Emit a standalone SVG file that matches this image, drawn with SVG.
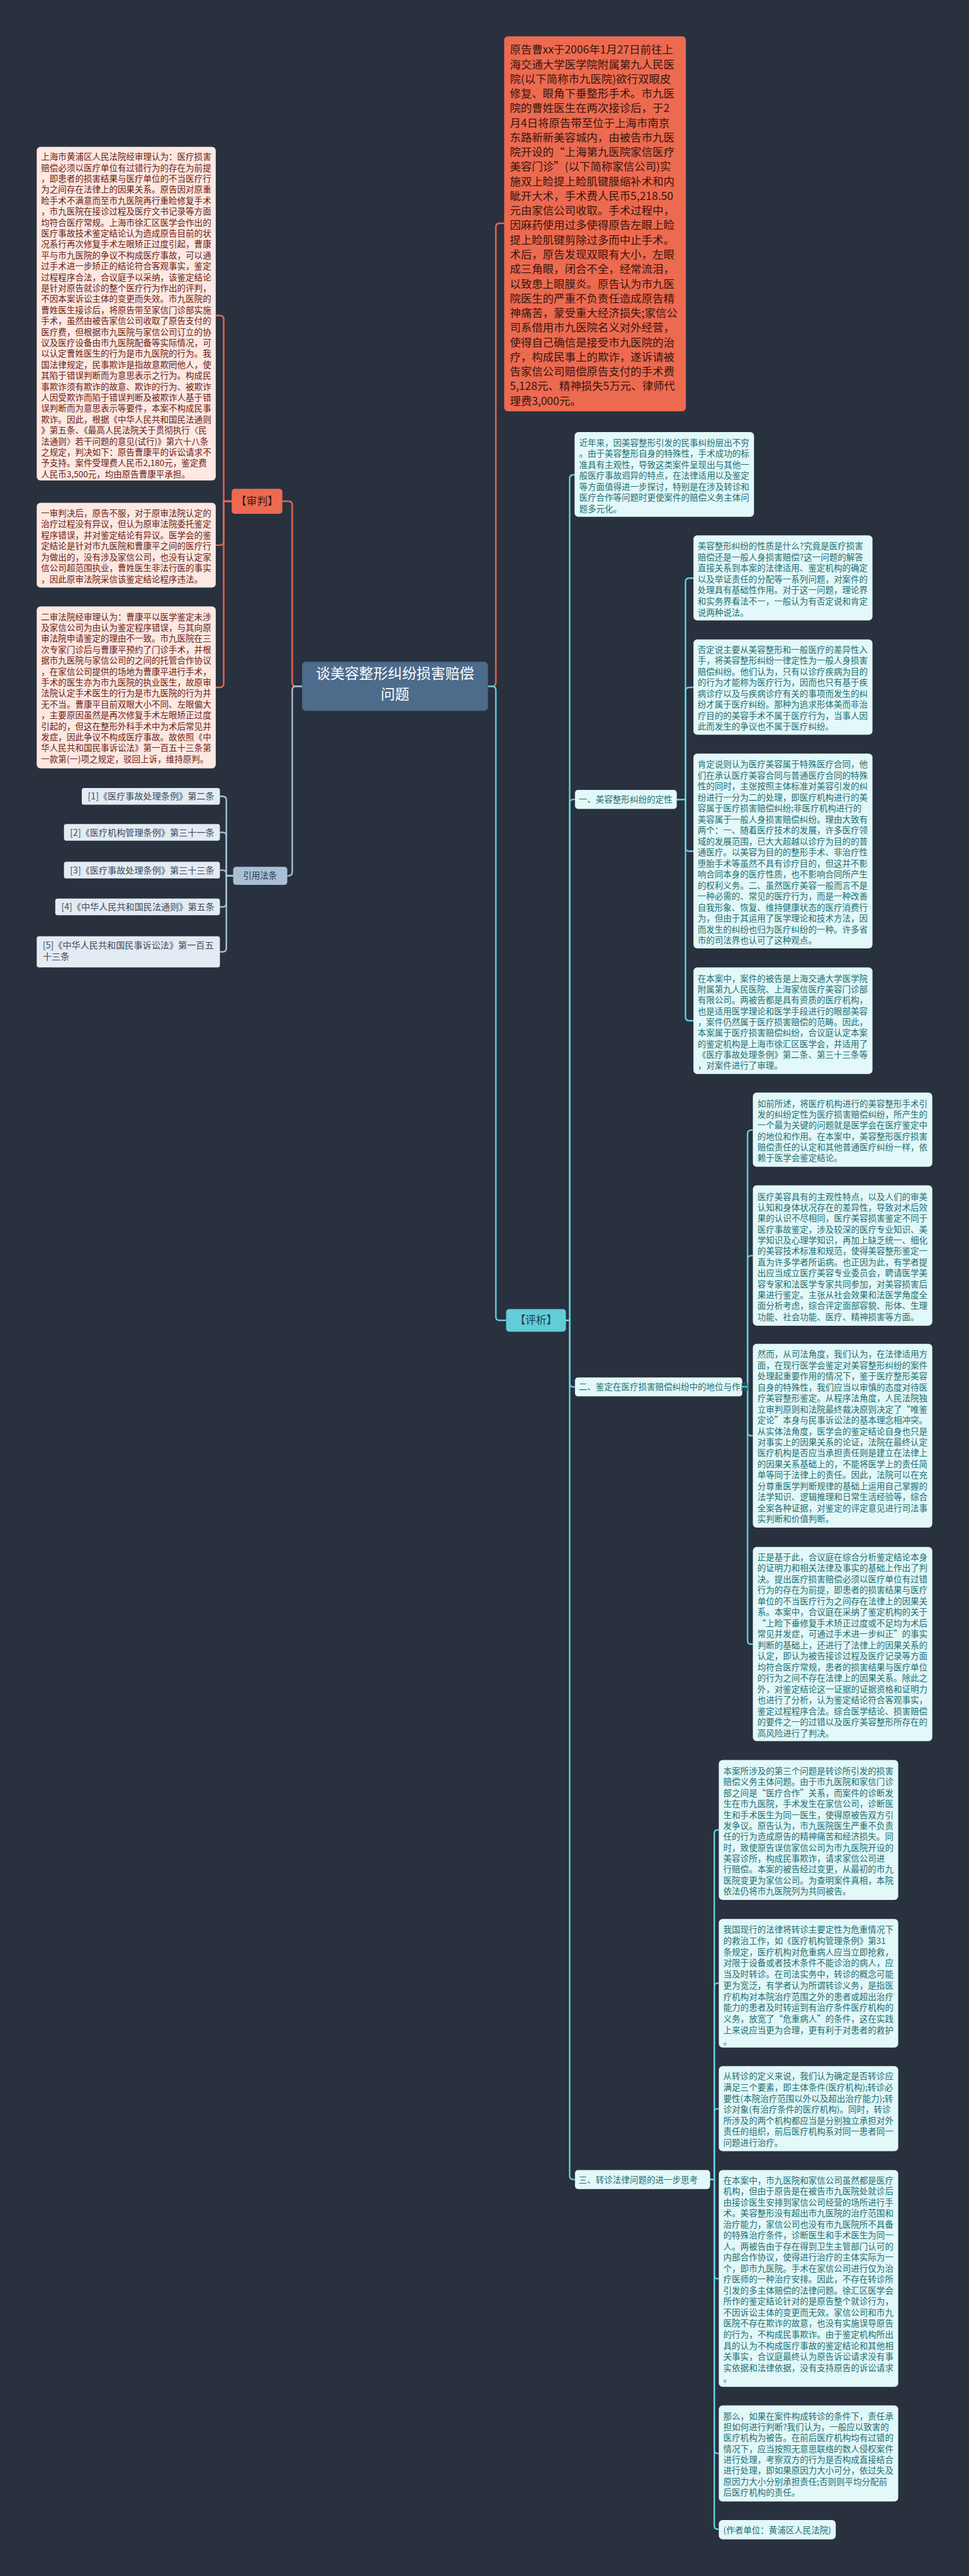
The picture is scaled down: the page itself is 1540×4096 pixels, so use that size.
<svg xmlns="http://www.w3.org/2000/svg" width="1540" height="4096" viewBox="0 0 1540 4096">
<defs>
<style>
text{font-family:"Noto Sans CJK SC","Noto Sans",sans-serif;}
.bg{fill:#29313f;}
.case{fill:#ec6a50;}
.caset{font-size:29px;fill:#3a140c;}
.lb{fill:#fde8e2;}
.lt{font-size:22.5px;fill:#6b2015;}
.rb{fill:#e2f8f9;}
.rt{font-size:22.5px;fill:#1f6e72;}
.ct{font-size:38px;fill:#ffffff;}
.ot{font-size:28px;fill:#3a1a14;}
.pt{font-size:28px;fill:#1f3f4a;}
.gt{font-size:22.5px;fill:#2b3a4a;}
.refb{fill:#e3ebf3;}
.reft{font-size:23.5px;fill:#3b4a5a;}
.co{fill:none;stroke:#e8674d;stroke-width:4;}
.cc{fill:none;stroke:#62cfdd;stroke-width:4;}
.cg{fill:none;stroke:#a9c0d6;stroke-width:4;}
</style>
</defs>
<rect class="bg" x="0" y="0" width="1540" height="4096"/>
<g transform="scale(0.6015625)">
<g id="connectors">
<path class="co" d="M798,1814 H782 Q772,1814 772,1804 V1335 Q772,1325 762,1325 H746" stroke-width="5"/>
<path class="cg" d="M798,1814 H782 Q772,1814 772,1824 V2305 Q772,2315 762,2315 H759" stroke-width="5"/>
<path class="co" d="M1289,1814 H1300 Q1310,1814 1310,1804 V600 Q1310,590 1320,590 H1332" stroke-width="5"/>
<path class="cc" d="M1289,1814 H1300 Q1310,1814 1310,1824 V3480 Q1310,3490 1320,3490 H1337" stroke-width="5"/>
<path class="co" d="M612,1325 H591 V844 Q591,834 581,834 H570"/>
<path class="co" d="M612,1325 H591 V1431 Q591,1441 581,1441 H570"/>
<path class="co" d="M612,1325 H591 V1807 Q591,1817 581,1817 H570"/>
<path class="cg" d="M616,2315 H598 V2115 Q598,2105 588,2105 H581"/>
<path class="cg" d="M616,2315 H598 V2210 Q598,2200 588,2200 H581"/>
<path class="cg" d="M616,2315 H598 V2310 Q598,2300 588,2300 H581"/>
<path class="cg" d="M616,2315 H598 V2387 Q598,2397 588,2397 H581"/>
<path class="cg" d="M616,2315 H598 V2506 Q598,2516 588,2516 H581"/>
<path class="cc" d="M1495,3490 H1505 V1265 Q1505,1255 1515,1255 H1518"/>
<path class="cc" d="M1495,3490 H1505 V2123 Q1505,2113 1515,2113 H1519"/>
<path class="cc" d="M1495,3490 H1505 V3656 Q1505,3666 1515,3666 H1519"/>
<path class="cc" d="M1495,3490 H1505 V5751 Q1505,5761 1515,5761 H1519"/>
<path class="cc" d="M1788,2113 H1811 V1538 Q1811,1528 1821,1528 H1832"/>
<path class="cc" d="M1788,2113 H1811 V1827 Q1811,1817 1821,1817 H1832"/>
<path class="cc" d="M1788,2113 H1811 V2240 Q1811,2250 1821,2250 H1832"/>
<path class="cc" d="M1788,2113 H1811 V2688 Q1811,2698 1821,2698 H1832"/>
<path class="cc" d="M1961,3666 H1975 V2997 Q1975,2987 1985,2987 H1989"/>
<path class="cc" d="M1961,3666 H1975 V3329 Q1975,3319 1985,3319 H1989"/>
<path class="cc" d="M1961,3666 H1975 V3785 Q1975,3795 1985,3795 H1989"/>
<path class="cc" d="M1961,3666 H1975 V4336 Q1975,4346 1985,4346 H1989"/>
<path class="cc" d="M1876,5761 H1887 V4847 Q1887,4837 1895,4837 H1899"/>
<path class="cc" d="M1876,5761 H1887 V5252 Q1887,5242 1895,5242 H1899"/>
<path class="cc" d="M1876,5761 H1887 V5584 Q1887,5574 1895,5574 H1899"/>
<path class="cc" d="M1876,5761 H1887 V6013 Q1887,6023 1895,6023 H1899"/>
<path class="cc" d="M1876,5761 H1887 V6475 Q1887,6485 1895,6485 H1899"/>
<path class="cc" d="M1876,5761 H1887 V6675 Q1887,6685 1895,6685 H1899"/>
</g>
<g id="root">
<rect x="798" y="1749" width="491" height="130" rx="10" fill="#4d6b8b"/>
<text class="ct" text-anchor="middle"><tspan x="1043.5" y="1793">谈美容整形纠纷损害赔偿</tspan><tspan x="1043.5" y="1849">问题</tspan></text>
</g>
<g id="case">
<rect class="case" x="1332" y="96" width="480" height="991" rx="10"/>
<text class="caset"><tspan x="1347" y="142">原告曹xx于2006年1月27日前往上</tspan><tspan x="1347" dy="38.66">海交通大学医学院附属第九人民医</tspan><tspan x="1347" dy="38.66">院(以下简称市九医院)欲行双眼皮</tspan><tspan x="1347" dy="38.66">修复、眼角下垂整形手术。市九医</tspan><tspan x="1347" dy="38.66">院的曹姓医生在两次接诊后，于2</tspan><tspan x="1347" dy="38.66">月4日将原告带至位于上海市南京</tspan><tspan x="1347" dy="38.66">东路新新美容城内，由被告市九医</tspan><tspan x="1347" dy="38.66">院开设的“上海第九医院家信医疗</tspan><tspan x="1347" dy="38.66">美容门诊”(以下简称家信公司)实</tspan><tspan x="1347" dy="38.66">施双上睑提上睑肌键膜缩补术和内</tspan><tspan x="1347" dy="38.66">眦开大术，手术费人民币5,218.50</tspan><tspan x="1347" dy="38.66">元由家信公司收取。手术过程中，</tspan><tspan x="1347" dy="38.66">因麻药使用过多使得原告左眼上睑</tspan><tspan x="1347" dy="38.66">提上睑肌键剪除过多而中止手术。</tspan><tspan x="1347" dy="38.66">术后，原告发现双眼有大小，左眼</tspan><tspan x="1347" dy="38.66">成三角眼，闭合不全，经常流泪，</tspan><tspan x="1347" dy="38.66">以致患上眼膜炎。原告认为市九医</tspan><tspan x="1347" dy="38.66">院医生的严重不负责任造成原告精</tspan><tspan x="1347" dy="38.66">神痛苦，蒙受重大经济损失;家信公</tspan><tspan x="1347" dy="38.66">司系借用市九医院名义对外经营，</tspan><tspan x="1347" dy="38.66">使得自己确信是接受市九医院的治</tspan><tspan x="1347" dy="38.66">疗，构成民事上的欺诈，遂诉请被</tspan><tspan x="1347" dy="38.66">告家信公司赔偿原告支付的手术费</tspan><tspan x="1347" dy="38.66">5,128元、精神损失5万元、律师代</tspan><tspan x="1347" dy="38.66">理费3,000元。</tspan></text>
</g>
<g id="shenpan">
<rect class="case" x="612" y="1292" width="134" height="66" rx="8"/>
<text class="ot" x="623" y="1335">【审判】</text>
</g>
<g id="sp1">
<rect class="lb" x="97" y="388" width="473" height="882" rx="10"/>
<text class="lt"><tspan x="108.6" y="422.5">上海市黄浦区人民法院经审理认为：医疗损害</tspan><tspan x="108.6" dy="28.93">赔偿必须以医疗单位有过错行为的存在为前提</tspan><tspan x="108.6" dy="28.93">，即患者的损害结果与医疗单位的不当医疗行</tspan><tspan x="108.6" dy="28.93">为之间存在法律上的因果关系。原告因对原重</tspan><tspan x="108.6" dy="28.93">睑手术不满意而至市九医院再行重睑修复手术</tspan><tspan x="108.6" dy="28.93">，市九医院在接诊过程及医疗文书记录等方面</tspan><tspan x="108.6" dy="28.93">均符合医疗常规。上海市徐汇区医学会作出的</tspan><tspan x="108.6" dy="28.93">医疗事故技术鉴定结论认为造成原告目前的状</tspan><tspan x="108.6" dy="28.93">况系行再次修复手术左眼矫正过度引起，曹康</tspan><tspan x="108.6" dy="28.93">平与市九医院的争议不构成医疗事故，可以通</tspan><tspan x="108.6" dy="28.93">过手术进一步矫正的结论符合客观事实，鉴定</tspan><tspan x="108.6" dy="28.93">过程程序合法，合议庭予以采纳，该鉴定结论</tspan><tspan x="108.6" dy="28.93">是针对原告就诊的整个医疗行为作出的评判，</tspan><tspan x="108.6" dy="28.93">不因本案诉讼主体的变更而失效。市九医院的</tspan><tspan x="108.6" dy="28.93">曹姓医生接诊后，将原告带至家信门诊部实施</tspan><tspan x="108.6" dy="28.93">手术，虽然由被告家信公司收取了原告支付的</tspan><tspan x="108.6" dy="28.93">医疗费，但根据市九医院与家信公司订立的协</tspan><tspan x="108.6" dy="28.93">议及医疗设备由市九医院配备等实际情况，可</tspan><tspan x="108.6" dy="28.93">以认定曹姓医生的行为是市九医院的行为。我</tspan><tspan x="108.6" dy="28.93">国法律规定，民事欺诈是指故意欺罔他人，使</tspan><tspan x="108.6" dy="28.93">其陷于错误判断而为意思表示之行为。构成民</tspan><tspan x="108.6" dy="28.93">事欺诈须有欺诈的故意、欺诈的行为、被欺诈</tspan><tspan x="108.6" dy="28.93">人因受欺诈而陷于错误判断及被欺诈人基于错</tspan><tspan x="108.6" dy="28.93">误判断而为意思表示等要件，本案不构成民事</tspan><tspan x="108.6" dy="28.93">欺诈。因此，根据《中华人民共和国民法通则</tspan><tspan x="108.6" dy="28.93">》第五条、《最高人民法院关于贯彻执行〈民</tspan><tspan x="108.6" dy="28.93">法通则〉若干问题的意见(试行)》第六十八条</tspan><tspan x="108.6" dy="28.93">之规定，判决如下：原告曹康平的诉讼请求不</tspan><tspan x="108.6" dy="28.93">予支持。案件受理费人民币2,180元，鉴定费</tspan><tspan x="108.6" dy="28.93">人民币3,500元，均由原告曹康平承担。</tspan></text>
</g>
<g id="sp2">
<rect class="lb" x="97" y="1329" width="473" height="224" rx="10"/>
<text class="lt"><tspan x="108.6" y="1364.5">一审判决后，原告不服，对于原审法院认定的</tspan><tspan x="108.6" dy="29">治疗过程没有异议，但认为原审法院委托鉴定</tspan><tspan x="108.6" dy="29">程序错误，并对鉴定结论有异议。医学会的鉴</tspan><tspan x="108.6" dy="29">定结论是针对市九医院和曹康平之间的医疗行</tspan><tspan x="108.6" dy="29">为做出的，没有涉及家信公司，也没有认定家</tspan><tspan x="108.6" dy="29">信公司超范围执业，曹姓医生非法行医的事实</tspan><tspan x="108.6" dy="29">，因此原审法院采信该鉴定结论程序违法。</tspan></text>
</g>
<g id="sp3">
<rect class="lb" x="97" y="1603" width="473" height="428" rx="10"/>
<text class="lt"><tspan x="108.6" y="1638.5">二审法院经审理认为：曹康平以医学鉴定未涉</tspan><tspan x="108.6" dy="28.9">及家信公司为由认为鉴定程序错误，与其向原</tspan><tspan x="108.6" dy="28.9">审法院申请鉴定的理由不一致。市九医院在三</tspan><tspan x="108.6" dy="28.9">次专家门诊后与曹康平预约了门诊手术，并根</tspan><tspan x="108.6" dy="28.9">据市九医院与家信公司的之间的托管合作协议</tspan><tspan x="108.6" dy="28.9">，在家信公司提供的场地为曹康平进行手术，</tspan><tspan x="108.6" dy="28.9">手术的医生亦为市九医院的执业医生，故原审</tspan><tspan x="108.6" dy="28.9">法院认定手术医生的行为是市九医院的行为并</tspan><tspan x="108.6" dy="28.9">无不当。曹康平目前双眼大小不同、左眼偏大</tspan><tspan x="108.6" dy="28.9">，主要原因虽然是再次修复手术左眼矫正过度</tspan><tspan x="108.6" dy="28.9">引起的，但这在整形外科手术中为术后常见并</tspan><tspan x="108.6" dy="28.9">发症，因此争议不构成医疗事故。故依照《中</tspan><tspan x="108.6" dy="28.9">华人民共和国民事诉讼法》第一百五十三条第</tspan><tspan x="108.6" dy="28.9">一款第(一)项之规定，驳回上诉，维持原判。</tspan></text>
</g>
<g id="yinyong">
<rect x="616" y="2291" width="143" height="48" rx="8" fill="#a8bfd6"/>
<text class="gt" x="642" y="2323">引用法条</text>
</g>
<g id="ref1"><rect class="refb" x="216" y="2083" width="365" height="44" rx="6"/><text class="reft" x="232" y="2113.5">[1]《医疗事故处理条例》第二条</text></g>
<g id="ref2"><rect class="refb" x="169" y="2178" width="412" height="44" rx="6"/><text class="reft" x="185" y="2208.5">[2]《医疗机构管理条例》第三十一条</text></g>
<g id="ref3"><rect class="refb" x="169" y="2278" width="412" height="44" rx="6"/><text class="reft" x="185" y="2308.5">[3]《医疗事故处理条例》第三十三条</text></g>
<g id="ref4"><rect class="refb" x="146" y="2375" width="435" height="44" rx="6"/><text class="reft" x="162" y="2405.5">[4]《中华人民共和国民法通则》第五条</text></g>
<g id="ref5"><rect class="refb" x="97" y="2475" width="484" height="82" rx="6"/><text class="reft"><tspan x="113" y="2506">[5]《中华人民共和国民事诉讼法》第一百五</tspan><tspan x="113" dy="30">十三条</tspan></text></g>
<g id="pingxi">
<rect x="1337" y="3460" width="158" height="60" rx="8" fill="#62ccd9"/>
<text class="pt" x="1360" y="3500">【评析】</text>
</g>
<g id="intro">
<rect class="rb" x="1518" y="1142" width="474" height="224" rx="10"/>
<text class="rt"><tspan x="1530" y="1178.5">近年来，因美容整形引发的民事纠纷层出不穷</tspan><tspan x="1530" dy="29">。由于美容整形自身的特殊性，手术成功的标</tspan><tspan x="1530" dy="29">准具有主观性，导致这类案件呈现出与其他一</tspan><tspan x="1530" dy="29">般医疗事故迥异的特点，在法律适用以及鉴定</tspan><tspan x="1530" dy="29">等方面值得进一步探讨，特别是在涉及转诊和</tspan><tspan x="1530" dy="29">医疗合作等问题时更使案件的赔偿义务主体问</tspan><tspan x="1530" dy="29">题多元化。</tspan></text>
</g>
<g id="sec1">
<rect class="rb" x="1519" y="2088" width="269" height="50" rx="8"/>
<text class="rt" x="1529" y="2121.5">一、美容整形纠纷的定性</text>
</g>
<g id="s1b1">
<rect class="rb" x="1832" y="1415" width="473" height="225" rx="10"/>
<text class="rt"><tspan x="1843" y="1452">美容整形纠纷的性质是什么?究竟是医疗损害</tspan><tspan x="1843" dy="29.1">赔偿还是一般人身损害赔偿?这一问题的解答</tspan><tspan x="1843" dy="29.1">直接关系到本案的法律适用、鉴定机构的确定</tspan><tspan x="1843" dy="29.1">以及举证责任的分配等一系列问题，对案件的</tspan><tspan x="1843" dy="29.1">处理具有基础性作用。对于这一问题，理论界</tspan><tspan x="1843" dy="29.1">和实务界看法不一，一般认为有否定说和肯定</tspan><tspan x="1843" dy="29.1">说两种说法。</tspan></text>
</g>
<g id="s1b2">
<rect class="rb" x="1832" y="1690" width="473" height="252" rx="10"/>
<text class="rt"><tspan x="1843" y="1725.5">否定说主要从美容整形和一般医疗的差异性入</tspan><tspan x="1843" dy="29">手，将美容整形纠纷一律定性为一般人身损害</tspan><tspan x="1843" dy="29">赔偿纠纷。他们认为，只有以诊疗疾病为目的</tspan><tspan x="1843" dy="29">的行为才能称为医疗行为，因而也只有基于疾</tspan><tspan x="1843" dy="29">病诊疗以及与疾病诊疗有关的事项而发生的纠</tspan><tspan x="1843" dy="29">纷才属于医疗纠纷。那种为追求形体美而非治</tspan><tspan x="1843" dy="29">疗目的的美容手术不属于医疗行为，当事人因</tspan><tspan x="1843" dy="29">此而发生的争议也不属于医疗纠纷。</tspan></text>
</g>
<g id="s1b3">
<rect class="rb" x="1832" y="1992" width="473" height="515" rx="10"/>
<text class="rt"><tspan x="1843" y="2028.5">肯定说则认为医疗美容属于特殊医疗合同，他</tspan><tspan x="1843" dy="29.1">们在承认医疗美容合同与普通医疗合同的特殊</tspan><tspan x="1843" dy="29.1">性的同时，主张按照主体标准对美容引发的纠</tspan><tspan x="1843" dy="29.1">纷进行一分为二的处理，即医疗机构进行的美</tspan><tspan x="1843" dy="29.1">容属于医疗损害赔偿纠纷;非医疗机构进行的</tspan><tspan x="1843" dy="29.1">美容属于一般人身损害赔偿纠纷。理由大致有</tspan><tspan x="1843" dy="29.1">两个：一、随着医疗技术的发展，许多医疗领</tspan><tspan x="1843" dy="29.1">域的发展范围，已大大超越以诊疗为目的的普</tspan><tspan x="1843" dy="29.1">通医疗。以美容为目的的整形手术、非治疗性</tspan><tspan x="1843" dy="29.1">堕胎手术等虽然不具有诊疗目的，但这并不影</tspan><tspan x="1843" dy="29.1">响合同本身的医疗性质，也不影响合同所产生</tspan><tspan x="1843" dy="29.1">的权利义务。二、虽然医疗美容一般而言不是</tspan><tspan x="1843" dy="29.1">一种必需的、常见的医疗行为，而是一种改善</tspan><tspan x="1843" dy="29.1">自我形象、恢复、维持健康状态的医疗消费行</tspan><tspan x="1843" dy="29.1">为，但由于其运用了医学理论和技术方法，因</tspan><tspan x="1843" dy="29.1">而发生的纠纷也归为医疗纠纷的一种。许多省</tspan><tspan x="1843" dy="29.1">市的司法界也认可了这种观点。</tspan></text>
</g>
<g id="s1b4">
<rect class="rb" x="1832" y="2557" width="473" height="282" rx="10"/>
<text class="rt"><tspan x="1843" y="2594.5">在本案中，案件的被告是上海交通大学医学院</tspan><tspan x="1843" dy="28.75">附属第九人民医院、上海家信医疗美容门诊部</tspan><tspan x="1843" dy="28.75">有限公司。两被告都是具有资质的医疗机构，</tspan><tspan x="1843" dy="28.75">也是适用医学理论和医学手段进行的眼部美容</tspan><tspan x="1843" dy="28.75">，案件仍然属于医疗损害赔偿的范畴。因此，</tspan><tspan x="1843" dy="28.75">本案属于医疗损害赔偿纠纷，合议庭认定本案</tspan><tspan x="1843" dy="28.75">的鉴定机构是上海市徐汇区医学会，并适用了</tspan><tspan x="1843" dy="28.75">《医疗事故处理条例》第二条、第三十三条等</tspan><tspan x="1843" dy="28.75">，对案件进行了审理。</tspan></text>
</g>
<g id="sec2">
<rect class="rb" x="1519" y="3641" width="442" height="50" rx="8"/>
<text class="rt" x="1529" y="3674.5" font-size="21px">二、鉴定在医疗损害赔偿纠纷中的地位与作用</text>
</g>
<g id="s2b1">
<rect class="rb" x="1989" y="2888" width="474" height="196" rx="10"/>
<text class="rt"><tspan x="2001" y="2925.5">如前所述，将医疗机构进行的美容整形手术引</tspan><tspan x="2001" dy="28.7">发的纠纷定性为医疗损害赔偿纠纷，所产生的</tspan><tspan x="2001" dy="28.7">一个最为关键的问题就是医学会在医疗鉴定中</tspan><tspan x="2001" dy="28.7">的地位和作用。在本案中，美容整形医疗损害</tspan><tspan x="2001" dy="28.7">赔偿责任的认定和其他普通医疗纠纷一样，依</tspan><tspan x="2001" dy="28.7">赖于医学会鉴定结论。</tspan></text>
</g>
<g id="s2b2">
<rect class="rb" x="1989" y="3133" width="474" height="371" rx="10"/>
<text class="rt"><tspan x="2001" y="3171">医疗美容具有的主观性特点，以及人们的审美</tspan><tspan x="2001" dy="28.9">认知和身体状况存在的差异性，导致对术后效</tspan><tspan x="2001" dy="28.9">果的认识不尽相同，医疗美容损害鉴定不同于</tspan><tspan x="2001" dy="28.9">医疗事故鉴定，涉及较深的医疗专业知识、美</tspan><tspan x="2001" dy="28.9">学知识及心理学知识，再加上缺乏统一、细化</tspan><tspan x="2001" dy="28.9">的美容技术标准和规范，使得美容整形鉴定一</tspan><tspan x="2001" dy="28.9">直为许多学者所诟病。也正因为此，有学者提</tspan><tspan x="2001" dy="28.9">出应当成立医疗美容专业委员会，聘请医学美</tspan><tspan x="2001" dy="28.9">容专家和法医学专家共同参加，对美容损害后</tspan><tspan x="2001" dy="28.9">果进行鉴定。主张从社会效果和法医学角度全</tspan><tspan x="2001" dy="28.9">面分析考虑，综合评定面部容貌、形体、生理</tspan><tspan x="2001" dy="28.9">功能、社会功能、医疗、精神损害等方面。</tspan></text>
</g>
<g id="s2b3">
<rect class="rb" x="1989" y="3552" width="474" height="486" rx="10"/>
<text class="rt"><tspan x="2001" y="3587.5">然而，从司法角度，我们认为，在法律适用方</tspan><tspan x="2001" dy="29.07">面，在现行医学会鉴定对美容整形纠纷的案件</tspan><tspan x="2001" dy="29.07">处理起重要作用的情况下，鉴于医疗整形美容</tspan><tspan x="2001" dy="29.07">自身的特殊性，我们应当以审慎的态度对待医</tspan><tspan x="2001" dy="29.07">疗美容整形鉴定。从程序法角度，人民法院独</tspan><tspan x="2001" dy="29.07">立审判原则和法院最终裁决原则决定了“唯鉴</tspan><tspan x="2001" dy="29.07">定论”本身与民事诉讼法的基本理念相冲突。</tspan><tspan x="2001" dy="29.07">从实体法角度，医学会的鉴定结论自身也只是</tspan><tspan x="2001" dy="29.07">对事实上的因果关系的论证，法院在最终认定</tspan><tspan x="2001" dy="29.07">医疗机构是否应当承担责任则是建立在法律上</tspan><tspan x="2001" dy="29.07">的因果关系基础上的，不能将医学上的责任简</tspan><tspan x="2001" dy="29.07">单等同于法律上的责任。因此，法院可以在充</tspan><tspan x="2001" dy="29.07">分尊重医学判断规律的基础上运用自己掌握的</tspan><tspan x="2001" dy="29.07">法学知识、逻辑推理和日常生活经验等，综合</tspan><tspan x="2001" dy="29.07">全案各种证据，对鉴定的评定意见进行司法事</tspan><tspan x="2001" dy="29.07">实判断和价值判断。</tspan></text>
</g>
<g id="s2b4">
<rect class="rb" x="1989" y="4089" width="474" height="513" rx="10"/>
<text class="rt"><tspan x="2001" y="4123.5">正是基于此，合议庭在综合分析鉴定结论本身</tspan><tspan x="2001" dy="29.1">的证明力和相关法律及事实的基础上作出了判</tspan><tspan x="2001" dy="29.1">决。提出医疗损害赔偿必须以医疗单位有过错</tspan><tspan x="2001" dy="29.1">行为的存在为前提，即患者的损害结果与医疗</tspan><tspan x="2001" dy="29.1">单位的不当医疗行为之间存在法律上的因果关</tspan><tspan x="2001" dy="29.1">系。本案中，合议庭在采纳了鉴定机构的关于</tspan><tspan x="2001" dy="29.1">“上睑下垂修复手术矫正过度或不足均为术后</tspan><tspan x="2001" dy="29.1">常见并发症，可通过手术进一步纠正”的事实</tspan><tspan x="2001" dy="29.1">判断的基础上，还进行了法律上的因果关系的</tspan><tspan x="2001" dy="29.1">认定，即认为被告接诊过程及医疗记录等方面</tspan><tspan x="2001" dy="29.1">均符合医疗常规，患者的损害结果与医疗单位</tspan><tspan x="2001" dy="29.1">的行为之间不存在法律上的因果关系。除此之</tspan><tspan x="2001" dy="29.1">外，对鉴定结论这一证据的证据资格和证明力</tspan><tspan x="2001" dy="29.1">也进行了分析，认为鉴定结论符合客观事实，</tspan><tspan x="2001" dy="29.1">鉴定过程程序合法。综合医学结论、损害赔偿</tspan><tspan x="2001" dy="29.1">的要件之一的过错以及医疗美容整形所存在的</tspan><tspan x="2001" dy="29.1">高风险进行了判决。</tspan></text>
</g>
<g id="sec3">
<rect class="rb" x="1519" y="5736" width="357" height="50" rx="8"/>
<text class="rt" x="1529" y="5769.5">三、转诊法律问题的进一步思考</text>
</g>
<g id="s3b1">
<rect class="rb" x="1899" y="4652" width="474" height="370" rx="10"/>
<text class="rt"><tspan x="1911" y="4689.5">本案所涉及的第三个问题是转诊所引发的损害</tspan><tspan x="1911" dy="28.9">赔偿义务主体问题。由于市九医院和家信门诊</tspan><tspan x="1911" dy="28.9">部之间是“医疗合作”关系，而案件的诊断发</tspan><tspan x="1911" dy="28.9">生在市九医院，手术发生在家信公司，诊断医</tspan><tspan x="1911" dy="28.9">生和手术医生为同一医生，使得原被告双方引</tspan><tspan x="1911" dy="28.9">发争议。原告认为，市九医院医生严重不负责</tspan><tspan x="1911" dy="28.9">任的行为造成原告的精神痛苦和经济损失。同</tspan><tspan x="1911" dy="28.9">时，致使原告误信家信公司为市九医院开设的</tspan><tspan x="1911" dy="28.9">美容诊所，构成民事欺诈，请求家信公司进</tspan><tspan x="1911" dy="28.9">行赔偿。本案的被告经过变更，从最初的市九</tspan><tspan x="1911" dy="28.9">医院变更为家信公司。为查明案件真相，本院</tspan><tspan x="1911" dy="28.9">依法仍将市九医院列为共同被告。</tspan></text>
</g>
<g id="s3b2">
<rect class="rb" x="1899" y="5072" width="474" height="340" rx="10"/>
<text class="rt"><tspan x="1911" y="5108.5">我国现行的法律将转诊主要定性为危重情况下</tspan><tspan x="1911" dy="29.5">的救治工作，如《医疗机构管理条例》第31</tspan><tspan x="1911" dy="29.5">条规定，医疗机构对危重病人应当立即抢救，</tspan><tspan x="1911" dy="29.5">对限于设备或者技术条件不能诊治的病人，应</tspan><tspan x="1911" dy="29.5">当及时转诊。在司法实务中，转诊的概念可能</tspan><tspan x="1911" dy="29.5">更为宽泛，有学者认为所谓转诊义务，是指医</tspan><tspan x="1911" dy="29.5">疗机构对本院治疗范围之外的患者或超出治疗</tspan><tspan x="1911" dy="29.5">能力的患者及时转运到有治疗条件医疗机构的</tspan><tspan x="1911" dy="29.5">义务，放宽了“危重病人”的条件，这在实践</tspan><tspan x="1911" dy="29.5">上来说应当更为合理，更有利于对患者的救护</tspan><tspan x="1911" dy="29.5">。</tspan></text>
</g>
<g id="s3b3">
<rect class="rb" x="1899" y="5461" width="474" height="225" rx="10"/>
<text class="rt"><tspan x="1911" y="5496.5">从转诊的定义来说，我们认为确定是否转诊应</tspan><tspan x="1911" dy="29.2">满足三个要素，即主体条件(医疗机构);转诊必</tspan><tspan x="1911" dy="29.2">要性(本院治疗范围以外以及超出治疗能力);转</tspan><tspan x="1911" dy="29.2">诊对象(有治疗条件的医疗机构)。同时，转诊</tspan><tspan x="1911" dy="29.2">所涉及的两个机构都应当是分别独立承担对外</tspan><tspan x="1911" dy="29.2">责任的组织，前后医疗机构系对同一患者同一</tspan><tspan x="1911" dy="29.2">问题进行治疗。</tspan></text>
</g>
<g id="s3b4">
<rect class="rb" x="1899" y="5736" width="474" height="573" rx="10"/>
<text class="rt"><tspan x="1911" y="5771.5">在本案中，市九医院和家信公司虽然都是医疗</tspan><tspan x="1911" dy="29.1">机构，但由于原告是在被告市九医院处就诊后</tspan><tspan x="1911" dy="29.1">由接诊医生安排到家信公司经营的场所进行手</tspan><tspan x="1911" dy="29.1">术。美容整形没有超出市九医院的治疗范围和</tspan><tspan x="1911" dy="29.1">治疗能力，家信公司也没有市九医院所不具备</tspan><tspan x="1911" dy="29.1">的特殊治疗条件，诊断医生和手术医生为同一</tspan><tspan x="1911" dy="29.1">人。两被告由于存在得到卫生主管部门认可的</tspan><tspan x="1911" dy="29.1">内部合作协议，使得进行治疗的主体实际为一</tspan><tspan x="1911" dy="29.1">个，即市九医院。手术在家信公司进行仅为治</tspan><tspan x="1911" dy="29.1">疗医师的一种治疗安排。因此，不存在转诊所</tspan><tspan x="1911" dy="29.1">引发的多主体赔偿的法律问题。徐汇区医学会</tspan><tspan x="1911" dy="29.1">所作的鉴定结论针对的是原告整个就诊行为，</tspan><tspan x="1911" dy="29.1">不因诉讼主体的变更而无效。家信公司和市九</tspan><tspan x="1911" dy="29.1">医院不存在欺诈的故意，也没有实施误导原告</tspan><tspan x="1911" dy="29.1">的行为，不构成民事欺诈。由于鉴定机构所出</tspan><tspan x="1911" dy="29.1">具的认为不构成医疗事故的鉴定结论和其他相</tspan><tspan x="1911" dy="29.1">关事实，合议庭最终认为原告诉讼请求没有事</tspan><tspan x="1911" dy="29.1">实依据和法律依据，没有支持原告的诉讼请求</tspan><tspan x="1911" dy="29.1">。</tspan></text>
</g>
<g id="s3b5">
<rect class="rb" x="1899" y="6358" width="474" height="254" rx="10"/>
<text class="rt"><tspan x="1911" y="6394.5">那么，如果在案件构成转诊的条件下，责任承</tspan><tspan x="1911" dy="28.8">担如何进行判断?我们认为，一般应以致害的</tspan><tspan x="1911" dy="28.8">医疗机构为被告。在前后医疗机构均有过错的</tspan><tspan x="1911" dy="28.8">情况下，应当按照无意思联络的数人侵权案件</tspan><tspan x="1911" dy="28.8">进行处理，考察双方的行为是否构成直接结合</tspan><tspan x="1911" dy="28.8">进行处理，即如果原因力大小可分，依过失及</tspan><tspan x="1911" dy="28.8">原因力大小分别承担责任;否则则平均分配前</tspan><tspan x="1911" dy="28.8">后医疗机构的责任。</tspan></text>
</g>
<g id="s3b6">
<rect class="rb" x="1899" y="6661" width="309" height="51" rx="10"/>
<text class="rt" x="1911" y="6696.5">(作者单位：黄浦区人民法院)</text>
</g>
</g>
</svg>
